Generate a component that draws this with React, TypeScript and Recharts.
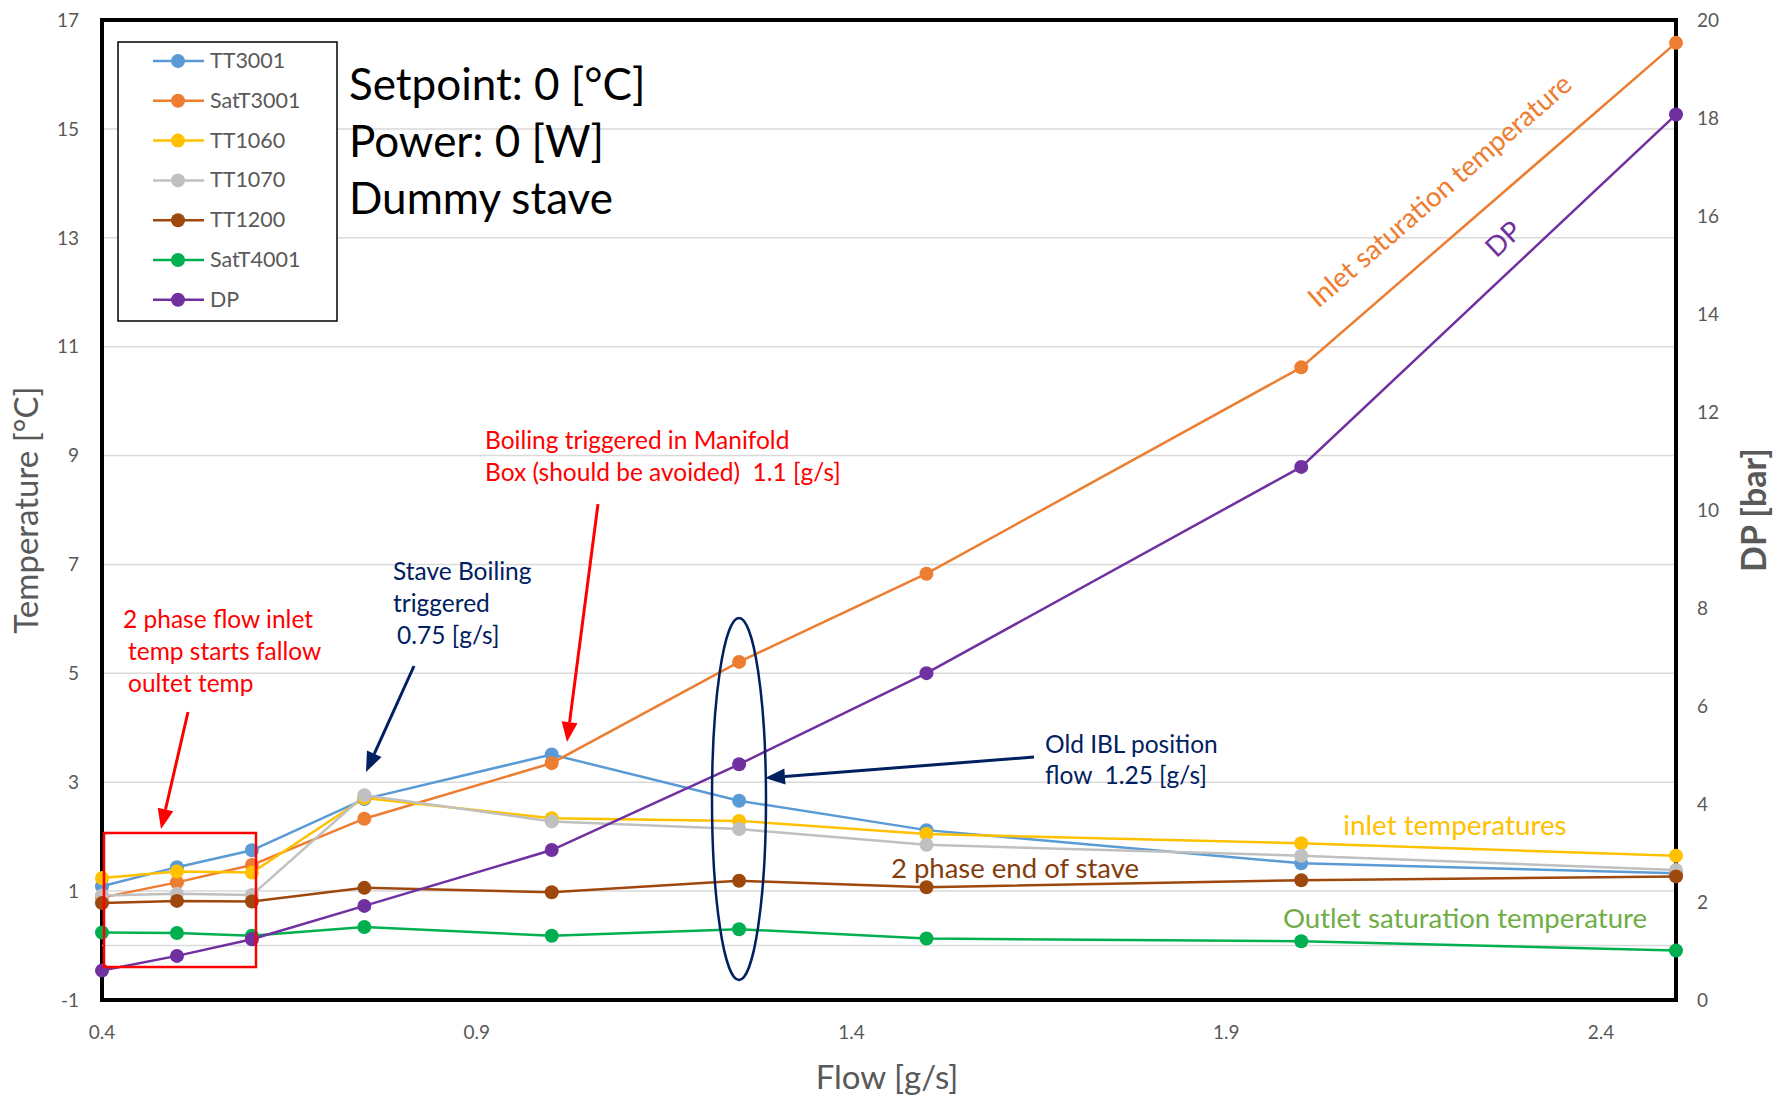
import React from "react";
import {
  LineChart, Line, XAxis, YAxis, CartesianGrid, ReferenceLine, ReferenceArea,
} from "recharts";

// Flow steps [g/s]
const flow = [0.4, 0.5, 0.6, 0.75, 1.0, 1.25, 1.5, 2.0, 2.5];

// Temperatures [°C]
const tt3001 = [1.09, 1.44, 1.75, 2.69, 3.51, 2.66, 2.12, 1.51, 1.33];
const satT3001 = [0.88, 1.16, 1.48, 2.33, 3.35, 5.21, 6.83, 10.62, 16.58];
const tt1060 = [1.24, 1.36, 1.34, 2.71, 2.34, 2.29, 2.05, 1.88, 1.65];
const tt1070 = [0.92, 0.95, 0.93, 2.76, 2.28, 2.14, 1.85, 1.65, 1.39];
const tt1200 = [0.78, 0.82, 0.81, 1.06, 0.98, 1.19, 1.07, 1.2, 1.27];
const satT4001 = [0.24, 0.23, 0.18, 0.34, 0.18, 0.3, 0.13, 0.08, -0.09];

// Pressure drop [bar]
const dp = [0.6, 0.9, 1.24, 1.92, 3.06, 4.81, 6.67, 10.88, 18.07];

const xTicks = [0.4, 0.9, 1.4, 1.9, 2.4];
const tempTicks = [-1, 1, 3, 5, 7, 9, 11, 13, 15, 17];
const dpTicks = [0, 2, 4, 6, 8, 10, 12, 14, 16, 18, 20];

const series = [
  { key: "TT3001", values: tt3001, color: "#5B9BD5", axis: "temp" },
  { key: "SatT3001", values: satT3001, color: "#ED7D31", axis: "temp" },
  { key: "TT1060", values: tt1060, color: "#FFC000", axis: "temp" },
  { key: "TT1070", values: tt1070, color: "#C0C0C0", axis: "temp" },
  { key: "TT1200", values: tt1200, color: "#9E480E", axis: "temp" },
  { key: "SatT4001", values: satT4001, color: "#00B050", axis: "temp" },
  { key: "DP", values: dp, color: "#7030A0", axis: "dp" },
];

const rows = flow.map((f, i) => {
  const row: any = { flow: f };
  series.forEach((s) => (row[s.key] = s.values[i]));
  return row;
});

const W = 1777;
const H = 1097;
const FONT = "Lato, 'Open Sans', sans-serif";
const GREY = "#595959";
const NAVY = "#002060";
const RED = "#FF0000";

const tickStyle = { fontFamily: FONT, fontSize: 19, fill: GREY };

function Arrow({ x1, y1, x2, y2, color }: any) {
  const a = Math.atan2(y2 - y1, x2 - x1);
  const len = 20;
  const w = 8;
  const bx = x2 - len * Math.cos(a);
  const by = y2 - len * Math.sin(a);
  const px = -Math.sin(a) * w;
  const py = Math.cos(a) * w;
  return (
    <g>
      <line x1={x1} y1={y1} x2={bx} y2={by} stroke={color} strokeWidth={3} />
      <polygon
        points={`${x2},${y2} ${bx + px},${by + py} ${bx - px},${by - py}`}
        fill={color}
      />
    </g>
  );
}

function Notes() {
  return (
    <svg
      width={W}
      height={H}
      style={{ position: "absolute", left: 0, top: 0, pointerEvents: "none" }}
      fontFamily={FONT}
    >
      {/* legend */}
      <rect x={118} y={42} width={219} height={279} fill="#fff" stroke="#000" strokeWidth={1.5} />
      {series.map((s, i) => {
        const y = 61 + i * 39.8;
        return (
          <g key={s.key}>
            <line x1={153} x2={204} y1={y} y2={y} stroke={s.color} strokeWidth={2.5} />
            <circle cx={178} cy={y} r={7} fill={s.color} />
            <text x={210} y={y + 7} fontSize={21.5} fill={GREY}>{s.key}</text>
          </g>
        );
      })}

      <g fontSize={44} fill="#000">
        <text x={349} y={100}>Setpoint: 0 [°C]</text>
        <text x={349} y={157}>Power: 0 [W]</text>
        <text x={349} y={214}>Dummy stave</text>
      </g>

      {/* axis titles */}
      <text x={38} y={510} fontSize={33} fill={GREY} textAnchor="middle" transform="rotate(-90 38 510)">
        Temperature [°C]
      </text>
      <text x={1766} y={510} fontSize={34} fontWeight="bold" fill={GREY} textAnchor="middle" transform="rotate(-90 1766 510)">
        DP [bar]
      </text>
      <text x={887} y={1089} fontSize={33} fill={GREY} textAnchor="middle">Flow [g/s]</text>

      {/* annotations */}
      <g fontSize={24.5} fill={RED}>
        <text x={485} y={449}>Boiling triggered in Manifold</text>
        <text x={485} y={481}>{"Box (should be avoided)\u00A0 1.1 [g/s]"}</text>
        <text x={123} y={628}>2 phase flow inlet</text>
        <text x={128} y={660}>temp starts fallow</text>
        <text x={128} y={692}>oultet temp</text>
      </g>
      <Arrow x1={598} y1={504} x2={567} y2={742} color={RED} />
      <Arrow x1={188} y1={712} x2={161} y2={829} color={RED} />
      <rect x={104} y={833} width={152} height={134} fill="none" stroke={RED} strokeWidth={2.5} />

      <g fontSize={24.5} fill={NAVY}>
        <text x={393} y={580}>Stave Boiling</text>
        <text x={393} y={612}>triggered</text>
        <text x={397} y={644}>0.75 [g/s]</text>
        <text x={1045} y={753}>Old IBL position</text>
        <text x={1045} y={784}>{"flow\u00A0 1.25 [g/s]"}</text>
      </g>
      <Arrow x1={414} y1={666} x2={366} y2={772} color={NAVY} />
      <Arrow x1={1034} y1={757} x2={765} y2={778} color={NAVY} />
      <ellipse cx={739} cy={799} rx={27} ry={181} fill="none" stroke={NAVY} strokeWidth={2.5} />

      <text x={1446} y={198} fontSize={27.5} fill="#ED7D31" textAnchor="middle" transform="rotate(-41 1446 198)">
        Inlet saturation temperature
      </text>
      <text x={1510} y={246} fontSize={27.5} fill="#7030A0" textAnchor="middle" transform="rotate(-43 1510 246)">
        DP
      </text>
      <text x={1455} y={835} fontSize={27.8} fill="#FFC000" textAnchor="middle">inlet temperatures</text>
      <text x={1015} y={878} fontSize={27.5} fill="#843C0C" textAnchor="middle">2 phase end of stave</text>
      <text x={1465} y={928} fontSize={27.6} fill="#70AD47" textAnchor="middle">Outlet saturation temperature</text>
    </svg>
  );
}

export default function App() {
  return (
    <div style={{ position: "absolute", left: 0, top: 0, width: W, height: H, background: "#fff" }}>
      <LineChart width={W} height={H} data={rows} margin={{ top: 20, right: 0, bottom: 0, left: 0 }}>
        <CartesianGrid vertical={false} stroke="#D9D9D9" strokeWidth={1.5} yAxisId="temp" />
        <XAxis
          dataKey="flow"
          type="number"
          domain={[0.4, 2.5]}
          ticks={xTicks}
          height={97}
          tickLine={false}
          axisLine={false}
          tickMargin={20}
          tick={tickStyle}
          tickFormatter={(v) => String(v)}
        />
        <YAxis
          yAxisId="temp"
          domain={[-1, 17]}
          ticks={tempTicks}
          width={102}
          tickLine={false}
          axisLine={false}
          tickMargin={17}
          tick={tickStyle}
        />
        <YAxis
          yAxisId="dp"
          orientation="right"
          domain={[0, 20]}
          ticks={dpTicks}
          width={101}
          tickLine={false}
          axisLine={false}
          tickMargin={15}
          tick={{ ...tickStyle, textAnchor: "start" }}
        />
        <ReferenceLine yAxisId="temp" y={0} stroke="#D9D9D9" strokeWidth={1.5} />
        {series.map((s) => (
          <Line
            key={s.key}
            yAxisId={s.axis}
            dataKey={s.key}
            stroke={s.color}
            strokeWidth={2.5}
            dot={{ r: 7, fill: s.color, stroke: "none" }}
            activeDot={false}
            isAnimationActive={false}
          />
        ))}
        <ReferenceArea
          yAxisId="temp"
          x1={0.4}
          x2={2.5}
          y1={-1}
          y2={17}
          fill="none"
          stroke="#000"
          strokeWidth={4}
          ifOverflow="visible"
        />
      </LineChart>
      <Notes />
    </div>
  );
}
